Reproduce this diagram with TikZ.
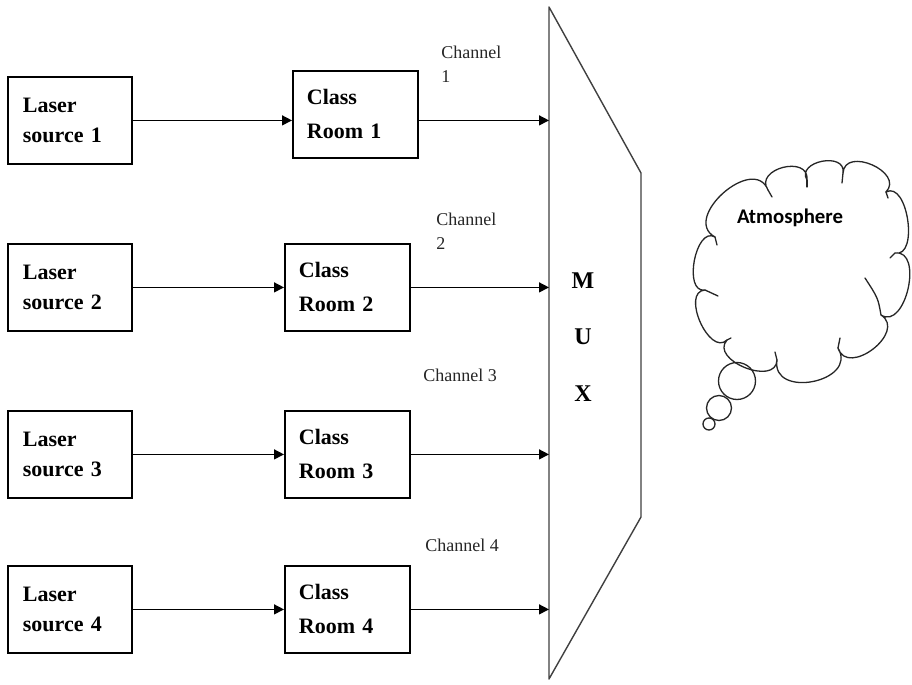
\documentclass[tikz,border=0pt]{standalone}
\usepackage{fontspec}
\setmainfont{Liberation Serif}
\newfontfamily\cloudfont{Carlito}
\usetikzlibrary{calc,arrows.meta}

\begin{document}
\begin{tikzpicture}[x=0.5pt,y=-0.5pt,
  srcbox/.style={draw, line width=0.9pt, anchor=north west,
    minimum height=43.5pt, text width=47pt, inner xsep=7.5pt, inner ysep=0pt,
    align=left, font=\bfseries\fontsize{11}{15}\selectfont},
  roombox/.style={srcbox, text width=48.5pt, inner xsep=7pt,
    font=\bfseries\fontsize{11}{17}\selectfont},
  flow/.style={line width=0.7pt, -{Triangle[length=5pt,width=5pt]}},
  chanlabel/.style={anchor=west, inner sep=0pt, align=left, text=black!85,
    font=\fontsize{9}{12}\selectfont},
  muxline/.style={line width=0.7pt, draw=black!75, line join=round},
  muxlabel/.style={inner sep=0pt, align=center,
    font=\bfseries\fontsize{12}{28.25}\selectfont},
  cloudline/.style={line width=0.65pt, draw=black!85, line cap=round, line join=round},
]
\fill[white] (0,0) rectangle (912,685);
\useasboundingbox (0,0) rectangle (912,685);

% laser sources
\node[srcbox] (ls1) at (7,76)  {Laser\\source 1};
\node[srcbox] (ls2) at (7,243) {Laser\\source 2};
\node[srcbox] (ls3) at (7,410) {Laser\\source 3};
\node[srcbox] (ls4) at (7,565) {Laser\\source 4};

% class rooms
\node[roombox] (cr1) at (292,70)  {Class\\Room 1};
\node[roombox] (cr2) at (284,243) {Class\\Room 2};
\node[roombox] (cr3) at (284,410) {Class\\Room 3};
\node[roombox] (cr4) at (284,565) {Class\\Room 4};

% multiplexer outline
\coordinate (muxTL) at (549,7);
\coordinate (muxTR) at (641,173);
\coordinate (muxBR) at (641,517);
\coordinate (muxBL) at (549,679);
\draw[muxline] (muxBL) -- (muxTL) -- (muxTR) -- (muxBR) -- cycle;
\node[muxlabel] (muxtext) at (583,337) {M\\U\\X};

% sources to rooms, rooms to the multiplexer
\foreach \i in {1,...,4}{
  \draw[flow] (ls\i.east) -- (ls\i.east -| cr\i.west);
  \draw[flow] (ls\i.east -| cr\i.east) -- (ls\i.east -| muxTL);
}

% channel labels
\node[chanlabel] (ch1) at (441,64)  {Channel\\1};
\node[chanlabel] (ch2) at (436,231) {Channel\\2};
\node[chanlabel] (ch3) at (423,375) {Channel 3};
\node[chanlabel] (ch4) at (425,545) {Channel 4};

% thought cloud
\coordinate (c0)  at (715,237);
\coordinate (c1)  at (768,190);
\coordinate (c2)  at (807,180);
\coordinate (c3)  at (843,173);
\coordinate (c4)  at (886,192);
\coordinate (c5)  at (895,253);
\coordinate (c6)  at (881,315);
\coordinate (c7)  at (838,348);
\coordinate (c8)  at (777,360);
\coordinate (c9)  at (727,340);
\coordinate (c10) at (705,290);
\draw[cloudline]
  (c0)  .. controls ($(c0)!0.55!110:(c1)$)  and ($(c1)!0.55!-110:(c0)$)  .. (c1)
        .. controls ($(c1)!0.64!110:(c2)$)  and ($(c2)!0.64!-110:(c1)$)  .. (c2)
        .. controls ($(c2)!0.60!110:(c3)$)  and ($(c3)!0.60!-110:(c2)$)  .. (c3)
        .. controls ($(c3)!0.58!110:(c4)$)  and ($(c4)!0.58!-110:(c3)$)  .. (c4)
        .. controls ($(c4)!0.40!110:(c5)$)  and ($(c5)!0.40!-110:(c4)$)  .. (c5)
        .. controls ($(c5)!0.46!110:(c6)$)  and ($(c6)!0.46!-110:(c5)$)  .. (c6)
        .. controls ($(c6)!0.58!110:(c7)$)  and ($(c7)!0.58!-110:(c6)$)  .. (c7)
        .. controls ($(c7)!0.64!110:(c8)$)  and ($(c8)!0.64!-110:(c7)$)  .. (c8)
        .. controls ($(c8)!0.50!110:(c9)$)  and ($(c9)!0.50!-110:(c8)$)  .. (c9)
        .. controls ($(c9)!0.45!110:(c10)$) and ($(c10)!0.45!-110:(c9)$) .. (c10)
        .. controls ($(c10)!0.42!110:(c0)$) and ($(c0)!0.42!-110:(c10)$) .. (c0);
% small inward hooks where the puffs meet
\draw[cloudline] (c0) -- (717,245);
\draw[cloudline] (c1) -- (772,197);
\draw[cloudline] (c2) -- (807,187);
\draw[cloudline] (c3) -- (842,183);
\draw[cloudline] (c4) -- (888,198);
\draw[cloudline] (c5) -- (890,258);
\draw[cloudline] (c6) .. controls (878,298) .. (865,278);
\draw[cloudline] (c7) -- (840,338);
\draw[cloudline] (c8) -- (775,352);
\draw[cloudline] (c9) -- (731,338);
\draw[cloudline] (c10) -- (718,296);
\node[font=\cloudfont\bfseries\fontsize{10.4}{12}\selectfont, inner sep=0pt] (atm) at (790,218) {Atmosphere};

% trailing bubbles
\draw[cloudline] (737,381) circle[radius=18.5];
\draw[cloudline] (719,408) circle[radius=12.5];
\draw[cloudline] (709,424) circle[radius=6];
\end{tikzpicture}
\end{document}
